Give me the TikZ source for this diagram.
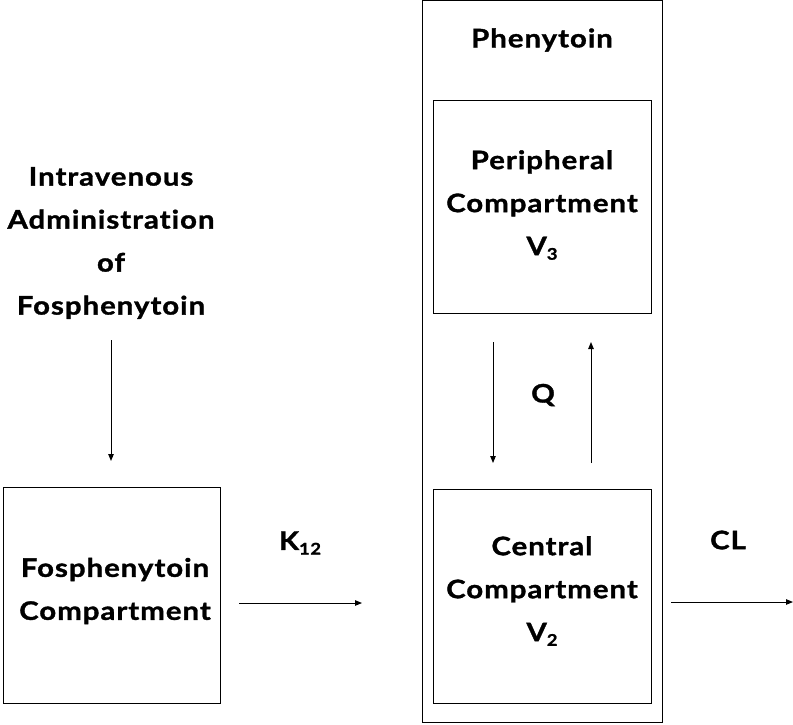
\documentclass[tikz,border=0pt]{standalone}
\usepackage{fontspec}
\setmainfont{Lato}[Ligatures=NoCommon, BoldFeatures={FakeStretch=1.15, LetterSpace=4, FakeBold=1.3}]
\usetikzlibrary{arrows.meta}
\newcommand{\subsc}[1]{\raisebox{-0.35ex}{\fontsize{16}{16}\selectfont #1}}
\begin{document}
\begin{tikzpicture}[x=1pt,y=-1pt,
  box/.style={draw, line width=1pt, inner sep=0pt},
  lbl/.style={font=\fontsize{25.5}{43}\selectfont\bfseries, align=center, inner sep=0pt},
  arr/.style={line width=1pt, -{Triangle[length=7pt,width=5.5pt]}}]
\useasboundingbox (0,0) rectangle (793,724);
% boxes
\node[box, minimum width=240pt, minimum height=722pt] (outer) at (542,361.5) {};
\node[box, minimum width=218pt, minimum height=213pt] (peri) at (542,206.5) {};
\node[box, minimum width=218pt, minimum height=214pt] (cent) at (542,596) {};
\node[box, minimum width=217pt, minimum height=216pt] (fos) at (111.5,595) {};
% texts
\node[lbl] (phen) at (542,40) {Phenytoin};
\node[lbl] (peritxt) at (542,205) {Peripheral\\Compartment\\V\subsc{3}};
\node[lbl] (centtxt) at (542,591) {Central\\Compartment\\V\subsc{2}};
\node[lbl] (fostxt) at (115,591) {Fosphenytoin\\Compartment};
\node[lbl] (iv) at (111,243) {Intravenous\\Administration\\of\\Fosphenytoin};
\node[lbl] (q) at (543,395) {Q};
\node[lbl] (k12) at (300,543) {K\subsc{12}};
\node[lbl] (cl) at (728,540) {CL};
% arrow endpoints
\coordinate (ivs) at (111,340);
\coordinate (ive) at (111,461);
\coordinate (ds) at (493,342);
\coordinate (de) at (493,463);
\coordinate (us) at (591,463);
\coordinate (ue) at (591,342);
\coordinate (ks) at (239,603);
\coordinate (ke) at (362,603);
\coordinate (cs) at (671,602);
\coordinate (ce) at (793,602);
\draw[arr] (ivs) -- (ive);
\draw[arr] (ds) -- (de);
\draw[arr] (us) -- (ue);
\draw[arr] (ks) -- (ke);
\draw[arr] (cs) -- (ce);
\end{tikzpicture}
\end{document}
